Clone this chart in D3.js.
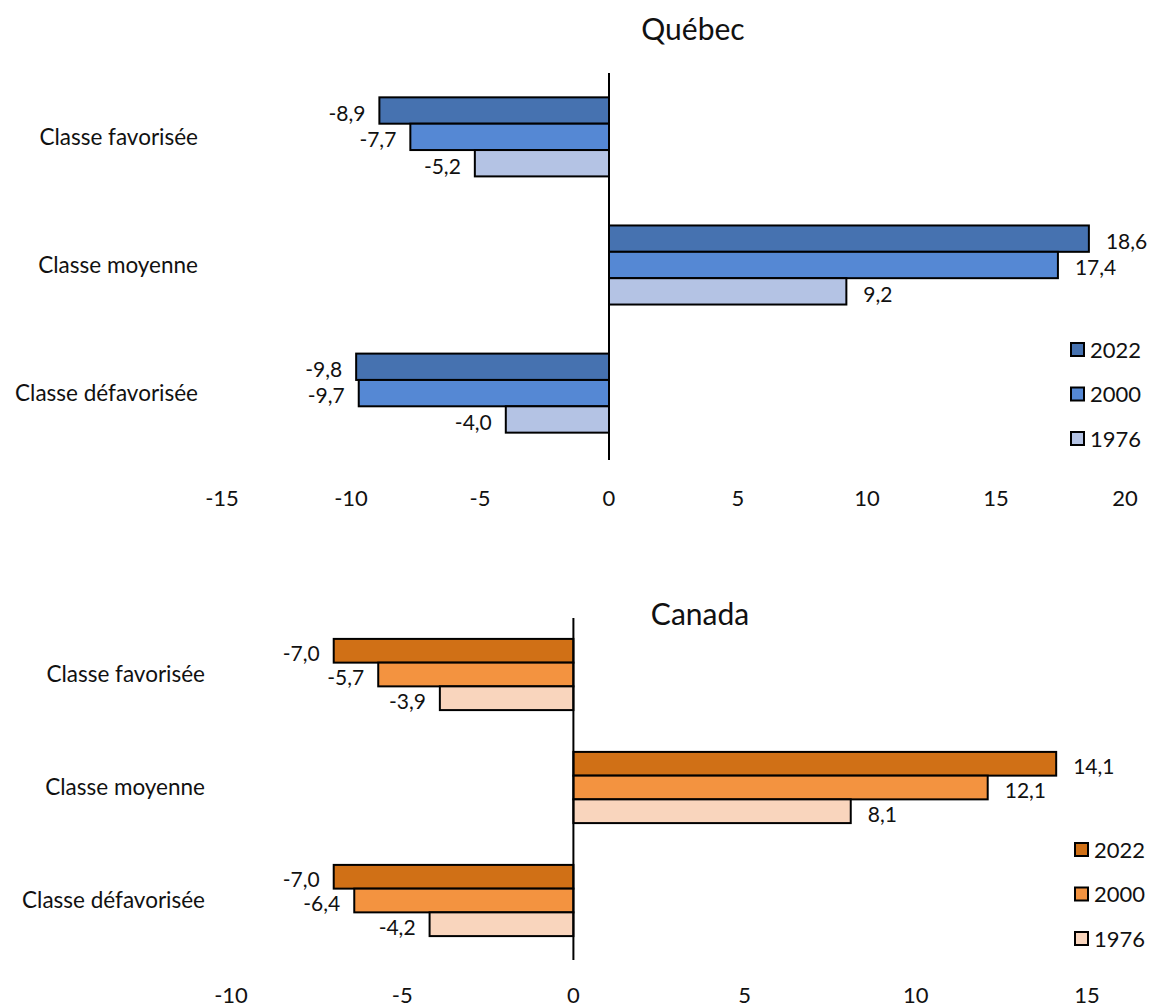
<!DOCTYPE html>
<html>
<head>
<meta charset="utf-8">
<script src="https://cdn.jsdelivr.net/npm/d3@7"></script>
<style>
  body { margin: 0; background: #fff; }
  svg text { font-family: Lato, "Noto Sans", sans-serif; fill: #111; }
</style>
</head>
<body>
<svg id="chart" width="1150" height="1005"></svg>
<script>
// data
const categories = ["Classe favorisée", "Classe moyenne", "Classe défavorisée"];
const years = ["2022", "2000", "1976"];

const quebec2022 = [-8.9, 18.6, -9.8];
const quebec2000 = [-7.7, 17.4, -9.7];
const quebec1976 = [-5.2, 9.2, -4.0];

const canada2022 = [-7.0, 14.1, -7.0];
const canada2000 = [-5.7, 12.1, -6.4];
const canada1976 = [-3.9, 8.1, -4.2];

const quebecTicks = [-15, -10, -5, 0, 5, 10, 15, 20];
const canadaTicks = [-10, -5, 0, 5, 10, 15];

const quebecColors = ["#4672b0", "#5588d4", "#b4c3e4"];
const canadaColors = ["#d07016", "#f39340", "#f9d5bd"];

const svg = d3.select('#chart');
const fmt = v => v.toFixed(1).replace(".", ",");

function drawPanel(opt) {
    const series = opt.series;
    const x = d3.scaleLinear().domain(opt.domain).range(opt.xRange);
    const y = d3.scaleBand().domain(categories).range(opt.yRange)
        .paddingInner(opt.padIn).paddingOuter(opt.padOut);
    const y2 = d3.scaleBand().domain(years).range([0, y.bandwidth()]);

    const g = svg.append('g');

    // title
    g.append('text')
        .attr('x', opt.titleX).attr('y', opt.titleY)
        .style('text-anchor', 'middle')
        .style('font-size', '30px')
        .text(opt.title);

    // category labels
    g.selectAll('.cat').data(categories).enter().append('text')
        .attr('x', opt.catX)
        .attr('y', d => y(d) + y.bandwidth() / 2)
        .attr('dy', '0.35em')
        .style('text-anchor', 'end')
        .style('font-size', '22.5px')
        .text(d => d);

    // bars
    categories.forEach((cat, i) => {
        years.forEach((yr, j) => {
            const v = series[j][i];
            g.append('rect')
                .attr('x', x(Math.min(0, v)))
                .attr('y', y(cat) + y2(yr))
                .attr('width', Math.abs(x(v) - x(0)))
                .attr('height', y2.bandwidth())
                .style('fill', opt.colors[j])
                .style('stroke', '#000')
                .style('stroke-width', 2);
            g.append('text')
                .attr('x', v < 0 ? x(v) - 14 : x(v) + 17)
                .attr('y', y(cat) + y2(yr) + y2.bandwidth() / 2 + 3)
                .attr('dy', '0.35em')
                .style('text-anchor', v < 0 ? 'end' : 'start')
                .style('font-size', '21px')
                .text(fmt(v));
        });
    });

    // zero line
    g.append('line')
        .attr('x1', x(0)).attr('x2', x(0))
        .attr('y1', opt.yRange[0]).attr('y2', opt.yRange[1] + 3)
        .style('stroke', '#000').style('stroke-width', 2);

    // tick labels (no axis line)
    g.selectAll('.tick').data(opt.ticks).enter().append('text')
        .attr('x', d => x(d))
        .attr('y', opt.tickY)
        .style('text-anchor', 'middle')
        .style('font-size', '22px')
        .text(d => d);

    // legend
    years.forEach((yr, j) => {
        const ly = opt.legY + j * 44.5;
        g.append('rect')
            .attr('x', opt.legX).attr('y', ly - 7)
            .attr('width', 13).attr('height', 13)
            .style('fill', opt.colors[j])
            .style('stroke', '#000').style('stroke-width', 2);
        g.append('text')
            .attr('x', opt.legX + 19).attr('y', ly)
            .attr('dy', '0.35em')
            .style('font-size', '22px')
            .text(yr);
    });
}

drawPanel({
    title: "Québec", titleX: 693, titleY: 40,
    series: [quebec2022, quebec2000, quebec1976],
    colors: quebecColors,
    domain: [-15, 20], xRange: [222, 1125], ticks: quebecTicks,
    yRange: [73, 457], padIn: 0.383, padOut: 0.19,
    catX: 198, tickY: 506,
    legX: 1071, legY: 350
});

drawPanel({
    title: "Canada", titleX: 700, titleY: 625,
    series: [canada2022, canada2000, canada1976],
    colors: canadaColors,
    domain: [-10, 15], xRange: [231, 1087], ticks: canadaTicks,
    yRange: [618, 957], padIn: 0.37, padOut: 0.185,
    catX: 205, tickY: 1003,
    legX: 1075, legY: 850
});
</script>
</body>
</html>
